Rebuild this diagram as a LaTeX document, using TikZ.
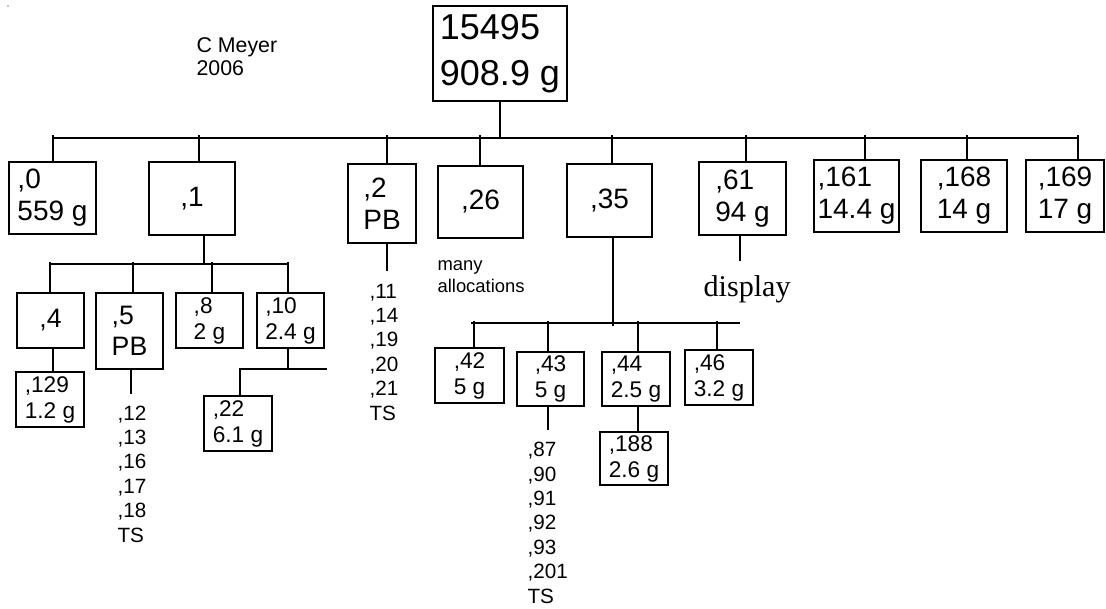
\documentclass[tikz,border=0pt]{standalone}
\usepackage{fontspec}
\setmainfont{Liberation Sans}
\newfontfamily\serifface{Liberation Serif}
\newcommand\szTop{\fontsize{27pt}{34.5pt}\selectfont}
\newcommand\szOne{\fontsize{21pt}{24pt}\selectfont}
\newcommand\szMid{\fontsize{20pt}{23.25pt}\selectfont}
\newcommand\szSm{\fontsize{17pt}{19.5pt}\selectfont}
\newcommand\szList{\fontsize{15.5pt}{18.3pt}\selectfont}
\newcommand\szNote{\fontsize{13.8pt}{16.5pt}\selectfont}
\newcommand\szMey{\fontsize{16pt}{17.25pt}\selectfont}
\newcommand\szDisp{\serifface\fontsize{22.6pt}{27pt}\selectfont}
\begin{document}
\begin{tikzpicture}[x=0.75pt,y=-0.75pt,line width=0.9pt,
  box/.style={draw,inner sep=0pt,align=left},
  wh/.style 2 args={minimum width=0.75pt*#1,minimum height=0.75pt*#2},
  lbl/.style={inner sep=0pt,align=left,anchor=base west}]
\useasboundingbox (0,0) rectangle (1106,608);
\fill (8,6) circle (0.5pt);
\node[lbl,font=\szMey] (meyer) at (196,75) {C Meyer\\2006};
% root
\node[box,wh={134}{95},font=\szTop] (top) at (500,53.5) {15495\\908.9 g};
% level 1
\node[box,wh={87}{72},font=\szOne] (b0) at (52.5,198) {,0\\559 g};
\node[box,wh={86}{73},font=\szOne] (b1) at (192,198.5) {,1};
\node[box,wh={68}{79},font=\szOne] (b2) at (382,203.5) {,2\\PB};
\node[box,wh={85}{72},font=\szOne] (b26) at (480.5,202) {,26};
\node[box,wh={85}{73},font=\szOne] (b35) at (609.5,200.5) {,35};
\node[box,wh={87}{73},font=\szOne] (b61) at (742.5,198.5) {,61\\94 g};
\node[box,wh={85}{72},font=\szOne] (b161) at (856.5,196) {,161\\14.4 g};
\node[box,wh={86}{72},font=\szOne] (b168) at (964,196) {,168\\14 g};
\node[box,wh={78}{72},font=\szOne] (b169) at (1065,196) {,169\\17 g};
% level 2 under ,1
\node[box,wh={67}{55},font=\szMid] (b4) at (50.5,320.5) {,4};
\node[box,wh={67}{76},font=\szMid] (b5) at (129.5,331) {,5\\PB};
\node[box,wh={67}{55},font=\szSm] (b8) at (209.5,320.5) {,8\\2 g};
\node[box,wh={67}{55},font=\szSm] (b10) at (290.5,320.5) {,10\\2.4 g};
\node[box,wh={68}{55},font=\szSm] (b129) at (50,399.5) {,129\\1.2 g};
\node[box,wh={68}{55},font=\szSm] (b22) at (238,423.5) {,22\\6.1 g};
% level 2 under ,35
\node[box,wh={69}{55},font=\szSm] (b42) at (469.5,375.5) {,42\\5 g};
\node[box,wh={67}{54},font=\szSm] (b43) at (550.5,379) {,43\\5 g};
\node[box,wh={68}{54},font=\szSm] (b44) at (636,379) {,44\\2.5 g};
\node[box,wh={68}{55},font=\szSm] (b46) at (719,377.5) {,46\\3.2 g};
\node[box,wh={68}{53},font=\szSm] (b188) at (634,458.5) {,188\\2.6 g};
% lists and notes (anchored at the baseline of their last line)
\node[lbl,font=\szList] (l5) at (117,542) {,12\\,13\\,16\\,17\\,18\\TS};
\node[lbl,font=\szList] (l2) at (369,420) {,11\\,14\\,19\\,20\\,21\\TS};
\node[lbl,font=\szList] (l43) at (527,603) {,87\\,90\\,91\\,92\\,93\\,201\\TS};
\node[lbl,font=\szNote] (many) at (437,292) {many\\allocations};
\node[lbl,font=\szDisp] (disp) at (703,296) {display};
% main bus
\coordinate (busA) at (53,138);
\coordinate (busB) at (1078,138);
\draw (busA) -- (busB);
\draw (top.south) -- (top.south |- busA);
\foreach \x/\b in {53/b0,199/b1,387/b2,480/b26,612/b35,746/b61,865/b161,967/b168,1078/b169}{
  \coordinate (t\b) at (\x,135);
  \draw (t\b) -- (t\b |- \b.north);
}
% under ,1
\coordinate (j1) at (204,264);
\draw (j1 |- b1.south) -- (j1);
\coordinate (k1a) at (49,264);
\coordinate (k1b) at (289,264);
\draw (k1a) -- (k1b);
\foreach \x/\b in {50/b4,133/b5,212/b8,288/b10}{
  \coordinate (t\b) at (\x,262);
  \draw (t\b) -- (t\b |- \b.north);
}
\coordinate (j4) at (53,0);
\draw (j4 |- b4.south) -- (j4 |- b129.north);
\coordinate (e5) at (131,394);
\draw (e5 |- b5.south) -- (e5);
\coordinate (j10) at (288,369);
\draw (j10 |- b10.south) -- (j10);
\coordinate (k10a) at (239,369);
\coordinate (k10b) at (327,369);
\draw (k10a) -- (k10b);
\coordinate (j22) at (240,369);
\draw (j22) -- (j22 |- b22.north);
% under ,2 and ,61
\coordinate (e2) at (387,271);
\draw (e2 |- b2.south) -- (e2);
\coordinate (e61) at (740,261);
\draw (e61 |- b61.south) -- (e61);
% under ,35
\coordinate (j35) at (613,326);
\draw (j35 |- b35.south) -- (j35);
\coordinate (k35a) at (471,323);
\coordinate (k35b) at (740,323);
\draw (k35a) -- (k35b);
\foreach \x/\b in {474/b42,548/b43,638/b44,717/b46}{
  \coordinate (t\b) at (\x,321);
  \draw (t\b) -- (t\b |- \b.north);
}
\coordinate (e43) at (548,430);
\draw (e43 |- b43.south) -- (e43);
\coordinate (j44) at (638,0);
\draw (j44 |- b44.south) -- (j44 |- b188.north);
\end{tikzpicture}
\end{document}
